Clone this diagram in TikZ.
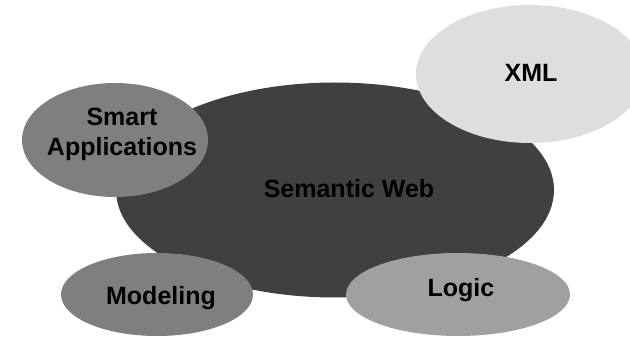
\documentclass[tikz,border=0pt]{standalone}
\usepackage{fontspec}
\setmainfont{Liberation Sans}
\usetikzlibrary{shapes.geometric}
\definecolor{webgray}{HTML}{404040}
\definecolor{midgray}{HTML}{7F7F7F}
\definecolor{logicgray}{HTML}{A0A0A0}
\definecolor{xmlgray}{HTML}{DEDEDE}
\tikzset{
  blob/.style={ellipse, draw=none, inner sep=0pt},
  word/.style={anchor=base, inner sep=0pt, text=black,
    font=\fontsize{25}{30}\selectfont\bfseries},
}
\begin{document}
\begin{tikzpicture}[x=1pt, y=-1pt]
  \useasboundingbox (0,0) rectangle (630,337);
  \clip (0,0) rectangle (630,337);
  % central topic
  \node[blob, fill=webgray, minimum width=438pt, minimum height=215pt] (web) at (335,190) {};
  % surrounding topics
  \node[blob, fill=xmlgray, minimum width=228pt, minimum height=138pt] (xml) at (530,74) {};
  \node[blob, fill=midgray, minimum width=186pt, minimum height=114pt] (smart) at (115,140) {};
  \node[blob, fill=midgray, minimum width=192pt, minimum height=83pt] (model) at (157,294.5) {};
  \node[blob, fill=logicgray, minimum width=224pt, minimum height=83pt] (logic) at (458,294.5) {};
  % labels
  \node[word] (webtext) at (349,197) {Semantic Web};
  \node[word] (xmltext) at (531,82) {XML};
  \node[word] (smarttext) at (122,125) {Smart};
  \node[word] (apptext) at (122,155) {Applications};
  \node[word] (modeltext) at (161,304) {Modeling};
  \node[word] (logictext) at (461,296) {Logic};
\end{tikzpicture}
\end{document}
